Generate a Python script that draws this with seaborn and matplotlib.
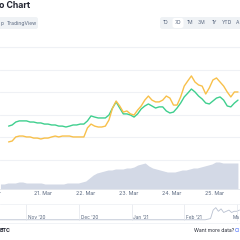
import numpy as np
import matplotlib
matplotlib.use("Agg")
import matplotlib.pyplot as plt
import seaborn as sns
from matplotlib.patches import FancyBboxPatch

# ---------------- data ----------------
start_day = 20.2          # 20 Mar, ~05:00
step_hours = 2

price_orange = [0.80, 0.84, 1.02, 1.06, 1.06, 1.02, 1.02, 0.97, 0.97, 0.93,
                0.97, 0.97, 1.02, 1.06, 1.02, 1.06, 1.06, 1.06, 1.02, 1.02,
                1.02, 1.02, 1.42, 1.59, 1.50, 1.46, 1.46, 1.50, 1.77, 2.30,
                2.61, 2.39, 2.12, 2.17, 2.04, 1.99, 2.21, 2.39, 2.65, 2.83,
                2.65, 2.57, 2.57, 2.65, 2.83, 2.74, 2.43, 2.43, 2.79, 3.27,
                3.50, 3.72, 3.45, 3.32, 3.27, 2.92, 3.19, 3.54, 3.63, 3.45,
                3.27, 3.01, 2.79, 3.01, 3.01]
price_green = [1.50, 1.55, 1.68, 1.73, 1.73, 1.73, 1.68, 1.68, 1.64, 1.64,
               1.59, 1.59, 1.55, 1.55, 1.50, 1.50, 1.46, 1.50, 1.55, 1.55,
               1.59, 1.59, 1.73, 1.95, 1.90, 1.86, 1.86, 1.86, 1.99, 2.30,
               2.57, 2.30, 2.04, 2.04, 1.99, 1.90, 2.04, 2.26, 2.39, 2.48,
               2.39, 2.30, 2.35, 2.35, 2.17, 2.08, 2.12, 2.30, 2.52, 2.79,
               2.96, 3.14, 3.01, 2.83, 2.70, 2.52, 2.48, 2.61, 2.74, 2.79,
               2.65, 2.39, 2.35, 2.52, 2.65]
volume = [2.5, 2.5, 3.0, 3.0, 3.0, 3.5, 3.5, 3.0, 3.0, 3.0,
          3.0, 3.0, 2.5, 2.5, 2.5, 2.5, 2.5, 2.5, 3.0, 3.0,
          3.0, 3.0, 3.5, 4.0, 5.5, 7.0, 8.0, 8.5, 9.0, 9.5,
          9.5, 10.0, 10.0, 10.0, 10.5, 10.5, 11.0, 12.0, 12.5, 13.0,
          11.5, 10.5, 10.0, 9.5, 9.0, 8.5, 8.5, 8.5, 9.0, 9.5,
          9.5, 10.0, 10.5, 10.5, 11.0, 11.5, 12.0, 12.5, 13.5, 13.5,
          13.0, 13.0, 13.0, 13.0, 13.0]
x_ticks = [20, 21, 22, 23, 24, 25]
x_labels = ["r", "21. Mar", "22. Mar", "23. Mar", "24. Mar", "25. Mar"]

nav_month_pos = [0, 1, 2, 3, 4]
nav_month_labels = ["Nov '20", "Dec '20", "Jan '21", "Feb '21", "Ma"]
nav_x = [-0.5, 0.0, 0.5, 1.0, 1.5, 2.0, 2.5, 3.0, 3.4, 3.5, 3.55, 3.6, 3.65,
         3.7, 3.75, 3.8, 3.85, 3.9, 3.95, 4.0, 4.05]
nav_values = [1, 1, 1, 1, 1, 1, 1, 1, 1, 2, 9, 11, 8, 10, 7, 8, 9, 7, 8, 8, 9]

range_buttons = ["1D", "7D", "1M", "3M", "1Y", "YTD", "A"]

# ---------------- styling ----------------
sns.set_theme(style="white")
plt.rcParams['font.family'] = ['Inter', 'DejaVu Sans']

W = H = 240.0
fig = plt.figure(figsize=(2.4, 2.4), dpi=100)
fig.patch.set_facecolor("white")

def fx(px):
    return px / W

def fy(py):
    return 1 - py / H

ORANGE = "#F8C04A"
GREEN = "#3FCF8E"
VOL = "#D3D9E6"
GRID = "#EFF1F5"
TXT = "#58667E"
DARK = "#222531"

# header
fig.text(fx(-1), fy(6), "o Chart", fontsize=6.3, fontweight="bold",
         color=DARK, ha="left", va="center")
fig.patches.append(FancyBboxPatch((fx(-6), fy(29)), fx(44), 12 / H,
                                  boxstyle="round,pad=0,rounding_size=0.01",
                                  transform=fig.transFigure, fc="#EFF2F5",
                                  ec="none", zorder=0))
fig.text(fx(0.5), fy(23), "p", fontsize=3.6, color=TXT, ha="left", va="center")
fig.text(fx(21.5), fy(23), "TradingView", fontsize=3.6, color=TXT,
         ha="center", va="center")

fig.patches.append(FancyBboxPatch((fx(160), fy(29)), fx(90), 12 / H,
                                  boxstyle="round,pad=0,rounding_size=0.01",
                                  transform=fig.transFigure, fc="#EFF2F5",
                                  ec="none", zorder=0))
fig.patches.append(FancyBboxPatch((fx(172.5), fy(28)), fx(11), 10 / H,
                                  boxstyle="round,pad=0,rounding_size=0.01",
                                  transform=fig.transFigure, fc="white",
                                  ec="none", zorder=1))
btn_x = [166, 178, 190, 202, 214, 227, 237.5]
for lab, bx in zip(range_buttons, btn_x):
    fig.text(fx(bx), fy(23), lab, fontsize=3.6, color=TXT,
             ha="center", va="center", zorder=2)

# separator under header
fig.lines.append(plt.Line2D([0, 1], [fy(47), fy(47)], transform=fig.transFigure,
                            color=GRID, lw=0.8))

# ---------------- main chart ----------------
n = len(price_orange)
t = start_day + np.arange(n) * step_hours / 24.0
xlim = (20.19, 25.58)
ax_pos = [0, fy(189), 1, (189 - 47) / H]

axv = fig.add_axes(ax_pos)
axv.fill_between(t, volume, 0, color=VOL, lw=0)
axv.set_xlim(*xlim)
axv.set_ylim(0, 71)
axv.axis("off")

ax = fig.add_axes(ax_pos)
ax.patch.set_visible(False)
ax.set_yticks([0, 1, 2, 3, 4, 5])
ax.grid(axis="y", color=GRID, lw=0.8)
sns.lineplot(x=t, y=price_green, ax=ax, color=GREEN, lw=1.0)
sns.lineplot(x=t, y=price_orange, ax=ax, color=ORANGE, lw=1.0)
ax.set_xlim(*xlim)
ax.set_ylim(-29 / 22.6, 5)
ax.set_xticks(x_ticks)
ax.set_xticklabels(x_labels)
ax.tick_params(axis="x", length=0, pad=1.5, labelsize=3.8, labelcolor=TXT)
ax.tick_params(axis="y", left=False, labelleft=False)
for s in ax.spines.values():
    s.set_visible(False)
ax.spines["bottom"].set_visible(True)
ax.spines["bottom"].set_color("#E3E6EC")
ax.spines["bottom"].set_linewidth(0.6)

# ---------------- navigator ----------------
axn = fig.add_axes([0, fy(221), 1, (221 - 204) / H])
sns.lineplot(x=nav_x, y=nav_values, ax=axn, color="#B8C0D0", lw=0.6)
axn.set_xlim(-0.5, 4.06)
axn.set_ylim(0, 14)
axn.axis("off")
for i, (mp, ml) in enumerate(zip(nav_month_pos, nav_month_labels)):
    axn.axvline(mp, color="#E3E6EC", lw=0.5)
    if i == len(nav_month_labels) - 1:
        axn.text(0.998, 2.5, ml, fontsize=3.4, color=TXT, ha="right",
                 va="center", transform=axn.get_yaxis_transform())
    else:
        axn.text(mp + 0.03, 2.5, ml, fontsize=3.4, color=TXT, ha="left",
                 va="center")
fig.lines.append(plt.Line2D([0, 1], [fy(204), fy(204)], transform=fig.transFigure,
                            color=GRID, lw=0.6))

# ---------------- footer ----------------
fig.lines.append(plt.Line2D([0, 1], [fy(223), fy(223)], transform=fig.transFigure,
                            color=GRID, lw=0.6))
fig.text(fx(0), fy(230), "BTC", fontsize=3.8, fontweight="bold", color=DARK,
         ha="left", va="center")
fig.text(fx(194), fy(230), "Want more data?", fontsize=3.6, color=DARK,
         ha="left", va="center")
fig.text(fx(239.5), fy(230), "Cl", fontsize=3.6, color="#3861FB",
         ha="right", va="center")

fig.savefig("out.png", dpi=100, facecolor="white")
